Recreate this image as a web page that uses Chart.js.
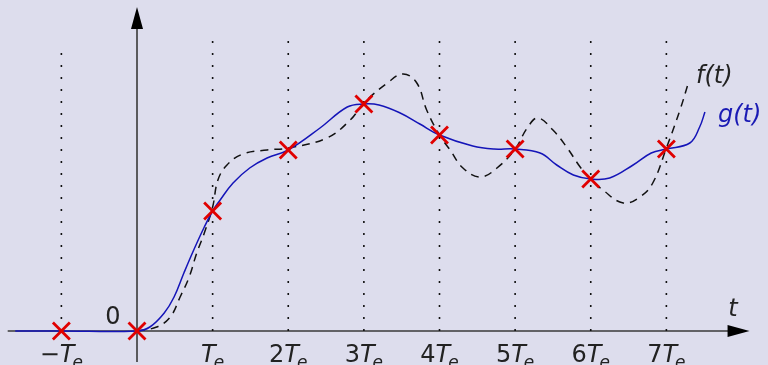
<!DOCTYPE html>
<html>
<head>
<meta charset="utf-8">
<script src="https://cdn.jsdelivr.net/npm/chart.js@4.4.0/dist/chart.umd.min.js"></script>
<style>
  body { margin:0; background:#dddded; }
  #wrap { width:768px; height:365px; position:relative; }
</style>
</head>
<body>
<div id="wrap"><canvas id="myChart"></canvas></div>
<script>
// time in units of Te, amplitude in arbitrary units
var sampleT = [-1, 0, 1, 2, 3, 4, 5, 6, 7];
var sampleY = [0, 0, 1.20, 1.81, 2.27, 1.96, 1.82, 1.52, 1.82];

// reconstructed signal g(t) (blue)
var gT = [-1.61, -1, 0, 0.17, 0.36, 0.49, 0.62, 0.75, 0.89, 1, 1.10, 1.27, 1.49, 1.72, 2, 2.42, 2.78, 3, 3.2, 3.48, 3.74, 4, 4.44, 4.72, 5, 5.33, 5.55, 5.77, 6, 6.25, 6.56, 6.80, 7, 7.31, 7.44, 7.51];
var gY = [0, 0, 0, 0.04, 0.18, 0.34, 0.58, 0.81, 1.04, 1.20, 1.31, 1.48, 1.63, 1.73, 1.81, 2.03, 2.24, 2.27, 2.26, 2.18, 2.07, 1.96, 1.85, 1.82, 1.82, 1.78, 1.66, 1.56, 1.52, 1.53, 1.66, 1.78, 1.82, 1.88, 2.04, 2.19];

// original signal f(t) (dashed)
var fT = [0, 0.26, 0.44, 0.57, 0.69, 0.79, 0.89, 1, 1.07, 1.19, 1.40, 1.72, 2, 2.51, 2.82, 3, 3.31, 3.52, 3.70, 3.83, 4, 4.14, 4.31, 4.54, 4.76, 5, 5.16, 5.30, 5.50, 5.69, 5.86, 6, 6.16, 6.43, 6.65, 6.82, 7, 7.18, 7.29];
var fY = [0, 0.04, 0.14, 0.34, 0.54, 0.78, 0.98, 1.24, 1.51, 1.66, 1.77, 1.81, 1.83, 1.93, 2.11, 2.28, 2.48, 2.57, 2.48, 2.21, 1.96, 1.81, 1.63, 1.54, 1.63, 1.82, 2.03, 2.13, 2.01, 1.83, 1.64, 1.52, 1.41, 1.28, 1.34, 1.48, 1.83, 2.21, 2.48];

// dotted guide lines: position and top
var gridT = [-1, 1, 2, 3, 4, 5, 6, 7];
var gridTop = [2.88, 2.96, 2.96, 2.96, 2.96, 2.96, 2.96, 2.96];

// tick labels (prefix before the italic T_e)
var tickT = [-1, 1, 2, 3, 4, 5, 6, 7];
var tickPrefix = ['\u2212', '', '2', '3', '4', '5', '6', '7'];

function pts(xs, ys) {
    var out = [];
    for (var i = 0; i < xs.length; i++) out.push({x: xs[i], y: ys[i]});
    return out;
}

var FONT = '"DejaVu Sans", sans-serif';

function drawTe(ctx, cx, base, prefix) {
    ctx.font = '24px ' + FONT;
    var w1 = ctx.measureText(prefix).width;
    ctx.font = 'italic 24px ' + FONT;
    var w2 = ctx.measureText('T').width;
    ctx.font = 'italic 17px ' + FONT;
    var w3 = ctx.measureText('e').width;
    var x = cx - (w1 + w2 + w3 - 2) / 2;
    ctx.fillStyle = '#222';
    ctx.textAlign = 'left';
    ctx.textBaseline = 'alphabetic';
    ctx.font = '24px ' + FONT;
    ctx.fillText(prefix, x, base);
    ctx.font = 'italic 24px ' + FONT;
    ctx.fillText('T', x + w1, base);
    ctx.font = 'italic 17px ' + FONT;
    ctx.fillText('e', x + w1 + w2 - 2, base + 6);
}

var axesPlugin = {
    id: 'axesPlugin',
    beforeDatasetsDraw: function(chart) {
        var ctx = chart.ctx, xs = chart.scales.x, ys = chart.scales.y;
        var x0 = xs.getPixelForValue(0), y0 = ys.getPixelForValue(0);
        var xl = xs.getPixelForValue(-1.71), xr = xs.getPixelForValue(8.10);
        var yb = ys.getPixelForValue(-0.31), yt = ys.getPixelForValue(3.24);
        ctx.save();
        ctx.strokeStyle = '#3a3a3a';
        ctx.fillStyle = '#000';
        ctx.lineWidth = 1.6;
        ctx.beginPath();
        ctx.moveTo(xl, y0); ctx.lineTo(xr - 18, y0);
        ctx.moveTo(x0, yb); ctx.lineTo(x0, yt + 20);
        ctx.stroke();
        // arrow heads
        ctx.beginPath();
        ctx.moveTo(xr, y0); ctx.lineTo(xr - 22, y0 - 6); ctx.lineTo(xr - 22, y0 + 6); ctx.closePath();
        ctx.fill();
        ctx.beginPath();
        ctx.moveTo(x0, yt); ctx.lineTo(x0 - 6, yt + 22); ctx.lineTo(x0 + 6, yt + 22); ctx.closePath();
        ctx.fill();
        ctx.restore();
    },
    afterDatasetsDraw: function(chart) {
        var ctx = chart.ctx, xs = chart.scales.x, ys = chart.scales.y;
        ctx.save();
        for (var i = 0; i < tickT.length; i++) {
            drawTe(ctx, xs.getPixelForValue(tickT[i]), 362, tickPrefix[i]);
        }
        ctx.fillStyle = '#222';
        ctx.textAlign = 'center';
        ctx.font = '24px ' + FONT;
        ctx.fillText('0', 113, 324);
        ctx.font = 'italic 24px ' + FONT;
        ctx.fillText('t', 733, 316);
        ctx.textAlign = 'left';
        ctx.fillText('f(t)', 696, 83);
        ctx.fillStyle = '#1a1ab4';
        ctx.fillText('g(t)', 718, 122);
        ctx.restore();
    }
};

var datasets = [
    {
        data: pts(sampleT, sampleY), showLine: false,
        pointStyle: 'crossRot', pointRadius: 12, pointBorderWidth: 2.8,
        pointBorderColor: '#e00000', pointBackgroundColor: '#e00000'
    },
    {
        data: pts(gT, gY), showLine: true, borderColor: '#1414b8', borderWidth: 1.5,
        pointRadius: 0, tension: 0.4, fill: false
    },
    {
        data: pts(fT, fY), showLine: true, borderColor: '#111', borderWidth: 1.5, borderDash: [8, 6],
        pointRadius: 0, tension: 0.4, fill: false
    }
];
for (var i = 0; i < gridT.length; i++) {
    datasets.push({
        data: [{x: gridT[i], y: 0}, {x: gridT[i], y: gridTop[i]}],
        showLine: true, borderColor: '#111', borderWidth: 1.6, borderDash: [2, 10],
        pointRadius: 0, fill: false
    });
}

var ctx = document.getElementById('myChart').getContext('2d');
var chart = new Chart(ctx, {
    type: 'scatter',
    data: { datasets: datasets },
    options: {
        responsive: true,
        maintainAspectRatio: false,
        animation: false,
        layout: { padding: 0, autoPadding: false },
        plugins: { legend: { display: false }, tooltip: { enabled: false } },
        scales: {
            x: { type: 'linear', display: false, min: -1.8116, max: 8.3438 },
            y: { type: 'linear', display: false, min: -0.34, max: 3.31 }
        }
    },
    plugins: [axesPlugin]
});
</script>
</body>
</html>
